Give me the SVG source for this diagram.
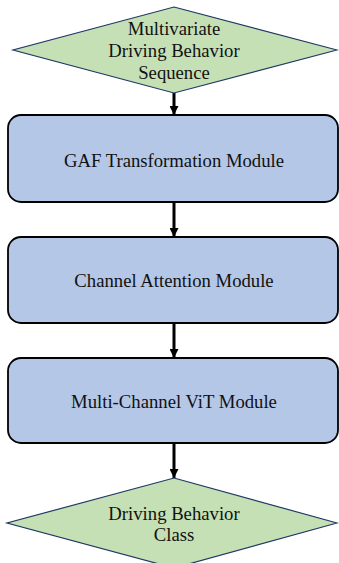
<svg xmlns="http://www.w3.org/2000/svg" width="339" height="563" viewBox="0 0 339 563">
<style>
.dia{fill:#C5E0B4;stroke:#1F3864;stroke-width:1.2}
.box{fill:#B4C7E7;stroke:#000;stroke-width:1.8}
.t{font-family:"Liberation Serif","Times New Roman",serif;font-size:18.7px;fill:#111;text-anchor:middle}
.c{stroke:#000;stroke-width:3;fill:none;marker-end:url(#ah)}
</style>
<defs>
<marker id="ah" viewBox="0 0 10 10" refX="10" refY="5" markerWidth="3" markerHeight="3" orient="auto" markerUnits="strokeWidth">
<path d="M0,0 L10,5 L0,10 Z" fill="#000"/>
</marker>
</defs>
<rect width="339" height="563" fill="#fff"/>
<g id="connectors">
<line class="c" x1="174" y1="93" x2="174" y2="115"/>
<line class="c" x1="174" y1="202" x2="174" y2="237"/>
<line class="c" x1="174" y1="323" x2="174" y2="358"/>
<line class="c" x1="174" y1="443" x2="174" y2="478"/>
</g>
<g id="input">
<polygon class="dia" points="174,7 337,50 174,93 13,50"/>
<text class="t" x="174" y="35">Multivariate</text>
<text class="t" x="174" y="57">Driving Behavior</text>
<text class="t" x="174" y="79">Sequence</text>
</g>
<g id="gaf">
<rect class="box" x="8" y="115" width="330" height="87" rx="13"/>
<text class="t" x="174" y="167">GAF Transformation Module</text>
</g>
<g id="attention">
<rect class="box" x="8" y="237" width="330" height="86" rx="13"/>
<text class="t" x="174" y="287">Channel Attention Module</text>
</g>
<g id="vit">
<rect class="box" x="8" y="358" width="330" height="85" rx="13"/>
<text class="t" x="174" y="408">Multi-Channel ViT Module</text>
</g>
<g id="output">
<polygon class="dia" points="174,478 337,523 174,568 7,523"/>
<text class="t" x="174" y="520">Driving Behavior</text>
<text class="t" x="174" y="541">Class</text>
</g>
</svg>
